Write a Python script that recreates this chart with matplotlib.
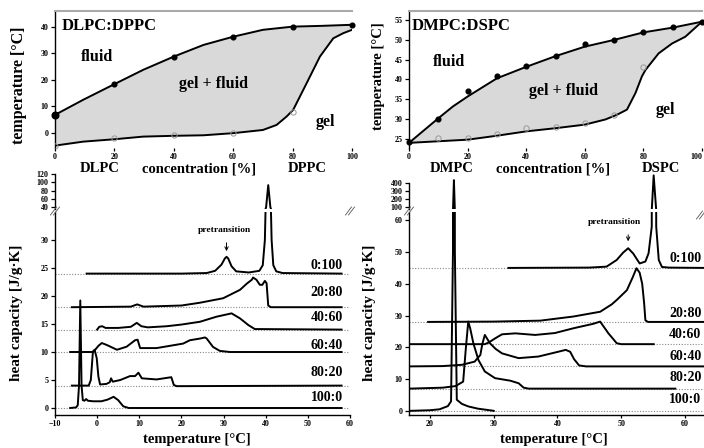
import matplotlib
matplotlib.use('Agg')
import matplotlib.pyplot as plt
import numpy as np
from matplotlib.lines import Line2D

plt.rcParams['font.family'] = ['Liberation Serif', 'DejaVu Serif']
plt.rcParams['font.weight'] = 'bold'
plt.rcParams['mathtext.default'] = 'regular'

# ---------------- phase diagram data ----------------
dlpc_liq_x = [0, 9.5, 20, 29.7, 40, 50, 60, 70, 80, 90, 100]
dlpc_liq_y = [6.8, 12.5, 18.4, 23.8, 28.8, 33.2, 36.3, 38.9, 40.1, 40.4, 40.8]
dlpc_sol_x = [0, 9.5, 20, 29.7, 40, 50, 60, 70, 74.6, 78, 80.2, 84.7, 89.2, 93.7, 97, 100]
dlpc_sol_y = [-4.8, -3.3, -2.4, -1.4, -1.1, -0.9, -0.1, 1.1, 3.0, 6.2, 8.7, 18.7, 28.8, 35.7, 37.6, 38.9]
dlpc_liq_pts_x = [0, 20, 40, 60, 80, 100]
dlpc_liq_pts_y = [6.8, 18.4, 28.8, 36.3, 40.1, 40.8]
dlpc_sol_pts_x = [0, 20, 40, 60, 80]
dlpc_sol_pts_y = [-4.8, -1.8, -0.8, 0.1, 8.0]

dmpc_liq_x = [0, 10, 15, 20, 30, 40, 50, 60, 70, 80, 90, 100]
dmpc_liq_y = [24.0, 30.2, 33.2, 35.7, 40.3, 43.2, 45.9, 48.3, 50.0, 51.9, 53.1, 54.6]
dmpc_sol_x = [0, 10, 20, 30, 40, 50, 60, 67, 71, 74.4, 77.3, 79.5, 80.7, 85.2, 89.8, 94.3, 100]
dmpc_sol_y = [24.0, 24.4, 24.8, 25.8, 26.9, 27.7, 28.6, 29.9, 31.1, 32.4, 36.6, 40.8, 42.4, 46.6, 49.1, 50.8, 54.6]
dmpc_liq_pts_x = [0, 10, 20, 30, 40, 50, 60, 70, 80, 90, 100]
dmpc_liq_pts_y = [24.1, 30.0, 37.0, 41.0, 43.5, 46.0, 49.0, 50.0, 52.0, 53.3, 54.5]
dmpc_sol_pts_x = [10, 20, 30, 40, 50, 60, 70, 80]
dmpc_sol_pts_y = [25.2, 25.2, 26.2, 27.7, 28.1, 29.1, 31.0, 43.2]

conc_ticks = [0, 20, 40, 60, 80, 100]

# ---------------- DSC data: DLPC:DPPC ----------------
L_labels = ['0:100', '20:80', '40:60', '60:40', '80:20', '100:0']
L_base = [24, 18, 14, 10, 4, 0]
L_label_y = [25.5, 20.7, 16.1, 11.1, 6.4, 1.8]

L0_T = [-2.5, 20, 26, 28, 29.5, 30.3, 30.7, 31.1, 31.9, 33, 36, 38.5, 39.3, 39.8, 40.1, 40.6, 41.1, 41.4, 41.8, 42.5, 44, 58]
L0_C = [24, 24, 24.1, 24.5, 25.6, 26.7, 27.0, 26.7, 25.3, 24.4, 24.2, 24.5, 25.5, 30, 40, 93, 40, 30, 25.5, 24.4, 24.1, 24]
L20_T = [-6, 8, 9.5, 11, 20, 24.4, 29.9, 32.3, 33.9, 35.5, 36.7, 37.0, 37.8, 38.6, 39.2, 39.8, 40.2, 40.6, 41.2, 58]
L20_C = [18, 18.1, 18.5, 18.1, 18.3, 18.8, 19.6, 20.5, 21.1, 22.2, 22.9, 23.3, 22.9, 22.0, 22.0, 22.7, 22.3, 18.3, 18, 18]
L40_T = [0, 0.5, 1.2, 2, 5, 8, 9.4, 10.5, 12, 16.5, 20, 24.4, 28.3, 31.9, 33.9, 35.9, 37.4, 58]
L40_C = [14, 14.5, 14.6, 14.3, 14.3, 14.5, 15.2, 14.6, 14.4, 14.6, 14.9, 15.4, 16.3, 16.9, 16.0, 14.8, 14.1, 14]
L60_T = [-6.4, -0.9, 0.3, 1.1, 2.3, 4.7, 7.0, 9.0, 9.6, 10.2, 14.1, 20.4, 22, 24.4, 25.6, 26.0, 27.5, 29.1, 31.5, 58]
L60_C = [10, 10, 11.1, 11.6, 11.25, 10.4, 10.95, 12.1, 12.2, 10.7, 10.7, 11.5, 12.1, 12.4, 12.6, 12.4, 10.9, 10.2, 10, 10]
L80_T = [-6, -2, -1.5, -1.0, -0.6, -0.1, 0.3, 0.7, 2.2, 3.0, 3.3, 3.7, 5.5, 7.8, 9.0, 9.8, 10.6, 14.1, 17.6, 18.2, 18.9, 58]
L80_C = [4, 4, 5, 10.1, 10.4, 8.9, 5.6, 4.2, 4.3, 4.6, 5.3, 4.7, 5.0, 5.7, 5.7, 6.3, 5.3, 5.1, 5.5, 4.1, 3.9, 4]
L100_T = [-6.4, -5, -4.6, -4.3, -4.0, -3.7, -3.4, -3.0, -2.6, -2.2, -1, 1, 2.5, 3.9, 5, 6.2, 7.5, 58]
L100_C = [0, 0.1, 0.5, 4, 19.2, 4, 1.4, 1.3, 1.6, 1.3, 1.2, 1.2, 1.5, 2.0, 1.4, 0.3, 0, 0]

# ---------------- DSC data: DMPC:DSPC ----------------
R_labels = ['0:100', '20:80', '40:60', '60:40', '80:20', '100:0']
R_base = [45, 28, 21, 14, 7, 0]
R_label_y = [48.1, 30.8, 23.9, 17.0, 10.4, 3.5]

R0_T = [32.3, 45, 47.7, 49.3, 50.3, 51.1, 51.9, 52.9, 53.8, 54.3, 54.8, 55.1, 55.5, 55.9, 56.4, 57.5, 63]
R0_C = [45, 45.1, 45.4, 47.5, 49.8, 51.2, 49.5, 46.4, 47, 49.6, 58, 500, 58, 47.5, 45.3, 45.1, 45]
R20_T = [19.7, 30, 37.3, 42.5, 46.7, 48.5, 49.3, 50.9, 51.8, 52.4, 52.9, 53.3, 53.6, 53.8, 54.2, 63]
R20_C = [28, 28.1, 28.4, 29.7, 31.2, 33.5, 34.9, 38, 42, 44.9, 43.5, 40, 34, 28.5, 28, 28]
R40_T = [16.7, 28.6, 29.2, 30.2, 31.3, 33.4, 36.5, 39.6, 42.5, 45.6, 46.7, 48.0, 49.3, 50, 55.1]
R40_C = [21, 21, 21.5, 22.8, 24.1, 24.4, 23.9, 24.5, 26.0, 27.4, 28.1, 24.4, 21.3, 21, 21]
R60_T = [16.7, 22, 25, 27.0, 27.9, 28.2, 28.6, 29.4, 30.3, 31.3, 33.9, 37.0, 40.1, 41.3, 42.0, 42.6, 43.4, 44.5, 63]
R60_C = [14, 14.1, 14.5, 15.5, 17.6, 21, 23.9, 21.3, 19.5, 18.1, 16.6, 17.1, 18.6, 19.2, 18.6, 16.3, 14.3, 14, 14]
R80_T = [16.7, 22, 24, 25.2, 25.6, 26.0, 26.3, 26.8, 27.6, 28.6, 30.2, 32.6, 33.9, 34.3, 34.7, 35.5, 58.5]
R80_C = [7, 7.3, 7.8, 9.2, 19.2, 28.1, 26, 21.3, 16, 12.4, 10.3, 9.5, 8.7, 8.0, 7.3, 7, 7]
R100_T = [16.7, 20, 21.5, 22.8, 23.3, 23.6, 23.75, 23.9, 24.2, 25, 26, 27.5, 29.7, 30]
R100_C = [0, 0.2, 0.5, 1.5, 3, 50, 440, 50, 3.5, 2.2, 1.4, 0.7, 0.1, 0]

# ---------------- figure ----------------
W, H = 704, 448
fig = plt.figure(figsize=(W / 100, H / 100), dpi=100)


def add_ax(l, t, r, b):
    return fig.add_axes([l / W, 1 - b / H, (r - l) / W, (b - t) / H])


def fx(x):
    return x / W


def fy(y):
    return 1 - y / H


TK = dict(direction='out', length=3, width=0.9, labelsize=5.8, pad=1.5, colors='black')
LW = 1.4


def phase(ax, liq_x, liq_y, sol_x, sol_y, lpx, lpy, spx, spy, ylim, yticks):
    ax.fill(list(liq_x) + list(sol_x[::-1]), list(liq_y) + list(sol_y[::-1]),
            color='#d9d9d9', lw=0, zorder=1)
    ax.plot(liq_x, liq_y, color='black', lw=LW, zorder=3, solid_joinstyle='round')
    ax.plot(sol_x, sol_y, color='black', lw=LW, zorder=3, solid_joinstyle='round')
    ax.plot(lpx, lpy, 'o', color='black', ms=3.4, zorder=4, clip_on=False)
    ax.plot(spx, spy, 'o', mfc='none', mec='#999999', mew=0.7, ms=3.8, zorder=4)
    ax.set_xlim(0, 100)
    ax.set_ylim(*ylim)
    ax.set_yticks(yticks)
    ax.set_xticks(conc_ticks)
    ax.tick_params(**TK)
    ax.tick_params(axis='x', length=2)
    for s in ['right', 'bottom']:
        ax.spines[s].set_visible(False)
    ax.spines['top'].set_color('#aaaaaa')
    ax.spines['top'].set_linewidth(1.5)
    ax.spines['left'].set_linewidth(1.0)


# top-left
ax1 = add_ax(55, 11, 352, 148)
phase(ax1, dlpc_liq_x, dlpc_liq_y, dlpc_sol_x, dlpc_sol_y,
      dlpc_liq_pts_x, dlpc_liq_pts_y, dlpc_sol_pts_x, dlpc_sol_pts_y,
      (-5.7, 46.0), [0, 10, 20, 30, 40])
ax1.plot([0], [6.8], 'o', color='black', ms=4.8, zorder=5, clip_on=False)
ax1.text(2.4, 40.2, 'DLPC:DPPC', fontsize=12, ha='left', va='center')
ax1.text(14, 28.7, 'fluid', fontsize=11.5, ha='center', va='center')
ax1.text(53.2, 18.5, 'gel + fluid', fontsize=11.5, ha='center', va='center')
ax1.text(90.9, 4.2, 'gel', fontsize=11.5, ha='center', va='center')

# top-right
ax2 = add_ax(409, 11, 702, 148)
phase(ax2, dmpc_liq_x, dmpc_liq_y, dmpc_sol_x, dmpc_sol_y,
      dmpc_liq_pts_x, dmpc_liq_pts_y, dmpc_sol_pts_x, dmpc_sol_pts_y,
      (22.7, 57.3), [25, 30, 35, 40, 45, 50, 55])
ax2.get_xticklabels()[-1].set_horizontalalignment('right')
ax2.text(1.0, 53.5, 'DMPC:DSPC', fontsize=12, ha='left', va='center')
ax2.text(13.5, 44.5, 'fluid', fontsize=11.5, ha='center', va='center')
ax2.text(52.7, 37.2, 'gel + fluid', fontsize=11.5, ha='center', va='center')
ax2.text(87.4, 32.3, 'gel', fontsize=11.5, ha='center', va='center')

# texts below top panels
for x, s in [(100, 'DLPC'), (199, 'concentration [%]'), (307, 'DPPC'),
             (452, 'DMPC'), (553, 'concentration [%]'), (661, 'DSPC')]:
    fig.text(fx(x), fy(169), s, fontsize=10.5, ha='center', va='center')

fig.text(fx(19), fy(85), 'temperature [°C]', rotation=90, fontsize=11.5, ha='center', va='center')
fig.text(fx(378), fy(76), 'temperature [°C]', rotation=90, fontsize=10.5, ha='center', va='center')


def dsc(ax_lo, ax_up, curves, bases, labels, label_y, label_x, xlim, ylo, yup, lo_ticks, up_ticks, xticks):
    for ax in (ax_lo, ax_up):
        for T, C in curves:
            ax.plot(T, C, color='black', lw=LW, zorder=3)
        ax.set_xlim(*xlim)
        ax.tick_params(**TK)
        for s in ['top', 'right']:
            ax.spines[s].set_visible(False)
        ax.spines['left'].set_linewidth(1.0)
    for b in bases:
        ax_lo.axhline(b, color='#888888', ls=(0, (1, 1.5)), lw=0.8, zorder=1)
    for lab, y in zip(labels, label_y):
        ax_lo.text(label_x, y, lab, fontsize=10, ha='right', va='center')
    ax_lo.set_ylim(*ylo)
    ax_up.set_ylim(*yup)
    ax_lo.set_yticks(lo_ticks)
    ax_up.set_yticks(up_ticks)
    ax_lo.set_xticks(xticks)
    ax_lo.spines['bottom'].set_linewidth(1.0)
    ax_lo.tick_params(axis='x', length=2.5, pad=1.2)
    ax_up.spines['bottom'].set_visible(False)
    ax_up.set_xticks([])
    ax_up.spines['left'].set_bounds(yup[0], up_ticks[-1])


def brk(xp, yp):
    for dx in (-1.5, 1.5):
        fig.add_artist(Line2D([fx(xp + dx - 3), fx(xp + dx + 3)], [fy(yp + 4), fy(yp - 4)],
                              color='#555555', lw=0.6))


# bottom-left
axL = add_ax(55, 212, 350, 415)
axLu = add_ax(55, 172, 350, 209)
dsc(axL, axLu,
    [(L0_T, L0_C), (L20_T, L20_C), (L40_T, L40_C), (L60_T, L60_C), (L80_T, L80_C), (L100_T, L100_C)],
    L_base, L_labels, L_label_y, 58.3, (-10, 60), (-1.25, 35.0), (35.2, 124.8),
    [0, 5, 10, 15, 20, 25, 30], [40, 60, 80, 100, 120], [-10, 0, 10, 20, 30, 40, 50, 60])
axL.text(30.3, 31.8, 'pretransition', fontsize=6.8, ha='center', va='center')
axL.annotate('', xy=(30.7, 27.5), xytext=(30.7, 30.0),
             arrowprops=dict(arrowstyle='->', lw=0.7, color='black', mutation_scale=6))
brk(55, 211)
brk(350, 211)

# bottom-right
axR = add_ax(409, 212, 704, 415)
axRu = add_ax(409, 172, 704, 209)
dsc(axR, axRu,
    [(R0_T, R0_C), (R20_T, R20_C), (R40_T, R40_C), (R60_T, R60_C), (R80_T, R80_C), (R100_T, R100_C)],
    R_base, R_labels, R_label_y, 62.6, (16.7, 63.0), (-1.3, 62.6), (74.7, 543),
    [0, 10, 20, 30, 40, 50, 60], [100, 200, 300, 400], [20, 30, 40, 50, 60])
axR.text(49.0, 59.4, 'pretransition', fontsize=6.8, ha='center', va='center')
axR.annotate('', xy=(51.1, 52.5), xytext=(51.1, 56.3),
             arrowprops=dict(arrowstyle='->', lw=0.7, color='black', mutation_scale=6))
brk(409, 211)
brk(701, 215)

fig.text(fx(197), fy(439), 'temperature [°C]', fontsize=10.5, ha='center', va='center')
fig.text(fx(554), fy(439), 'temperature [°C]', fontsize=10.5, ha='center', va='center')
fig.text(fx(17), fy(313), 'heat capacity [J/g·K]', rotation=90, fontsize=11, ha='center', va='center')
fig.text(fx(370), fy(313), 'heat capacity [J/g·K]', rotation=90, fontsize=11, ha='center', va='center')

fig.savefig('out.png', dpi=100)
